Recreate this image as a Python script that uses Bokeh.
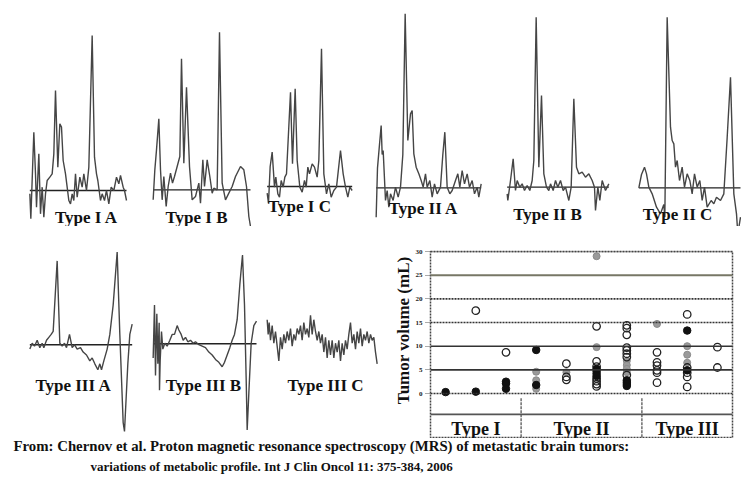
from bokeh.plotting import figure
from bokeh.layouts import column, row
from bokeh.models import Range1d, FixedTicker, Span, Title
from bokeh.core.properties import value
from bokeh.embed import file_html
from bokeh.resources import INLINE

# ---------------- spectra data (shift index, intensity a.u.; baseline = 0) -------------
IA_x = [0, 3, 8, 12, 17, 20, 27, 32, 37, 42, 47, 52, 60, 67, 72, 77, 84, 90, 95, 100, 107, 112, 117, 122, 127, 132, 137, 142, 150, 157, 162, 170, 177, 187, 194, 200, 204, 212, 217, 224, 230, 237, 244, 252, 260, 267, 272, 280, 284, 290]
IA_y = [-10, -85, 60, 175, 50, -50, 110, -70, 10, -80, -10, 30, 40, 50, 110, 300, 70, 200, 190, 90, 50, 10, -30, -40, -10, -30, 50, -20, 40, 10, 50, 0, 70, 465, 100, 50, 30, -30, -10, -30, 0, -40, 10, 0, 40, 20, 45, 10, 0, -30]

IB_x = [0, 5, 10, 17, 22, 27, 32, 39, 45, 52, 58, 64, 72, 80, 85, 92, 100, 109, 117, 127, 137, 142, 149, 154, 162, 170, 177, 182, 192, 199, 207, 217, 227, 237, 247, 262, 272, 280, 287, 292]
IB_y = [-30, 60, 120, 213, 60, -30, 40, -50, 10, 50, 20, 40, 70, 100, 393, 80, 308, 70, -30, -20, 20, -40, 90, 10, 90, 40, -10, 5, 0, 473, 20, -30, -10, 10, 40, 70, 60, 10, -80, -110]

IC_x = [0, 4, 9, 15, 22, 26, 32, 37, 42, 48, 53, 58, 70, 76, 84, 90, 98, 105, 112, 117, 122, 127, 135, 142, 150, 155, 163, 170, 178, 185, 192, 200, 208, 220, 228, 235, 242, 248, 255]
IC_y = [-20, -50, 60, 103, -2, 28, -22, -32, 18, -2, 28, 38, 283, 68, 293, 78, -2, -17, 18, -2, 58, 38, 68, 58, 28, 78, 413, 38, -22, 8, -32, -12, -2, 108, 38, -2, -32, -2, -12]

IIA_x = [0, 4, 10, 15, 18, 21, 28, 33, 38, 43, 51, 58, 66, 73, 80, 87, 95, 103, 108, 113, 120, 128, 135, 141, 148, 153, 161, 168, 175, 183, 193, 200, 206, 213, 221, 228, 238, 245, 251, 258, 265, 273, 280, 288, 295, 303, 308, 315]
IIA_y = [-88, 60, 130, 187, 100, 112, -38, -8, -58, -18, -38, 2, -28, 2, 100, 522, 142, 222, 232, 102, 62, 42, 22, 2, 42, 2, 22, -28, 12, -18, 2, 100, 167, 2, -18, -8, 22, 42, 2, 52, 12, 42, 2, 22, -18, 2, -28, 12]

IIB_x = [0, 2, 10, 18, 25, 30, 38, 45, 52, 60, 68, 75, 80, 87, 95, 103, 110, 118, 125, 130, 138, 145, 152, 160, 168, 175, 185, 192, 200, 208, 215, 225, 235, 245, 255, 262, 265, 272, 278, 285, 295, 305]
IIB_y = [-20, -40, 20, 85, -10, 20, 0, 10, -10, 5, -10, 20, 80, 510, 60, 275, 40, 0, -10, 10, -10, 20, 0, 20, -10, 0, -40, 0, 265, 60, 40, 45, 30, 40, 20, 0, -70, 0, -40, 20, -10, 10]

IIC_x = [0, 8, 17, 23, 30, 40, 53, 65, 75, 78, 85, 95, 100, 105, 110, 115, 122, 130, 137, 145, 153, 160, 167, 175, 183, 190, 197, 205, 217, 225, 233, 245, 255, 265, 275, 285, 293, 297, 305]
IIC_y = [0, 40, 62, 42, 2, -18, -58, -78, -50, -88, 512, 182, 142, 132, 62, 82, 22, 62, 2, 42, 22, -18, 42, 2, 22, -38, 2, -58, -38, -48, -28, -38, -18, 150, 332, -18, -78, -138, -88]

IIIA_x = [0, 7, 14, 22, 30, 37, 42, 50, 57, 64, 70, 82, 90, 97, 104, 110, 119, 127, 134, 142, 152, 160, 170, 180, 187, 195, 204, 210, 215, 222, 232, 240, 250, 262, 270, 280, 284, 294, 300, 307]
IIIA_y = [-15, 5, -5, 15, -10, 5, -10, 15, 25, 35, 45, 285, 5, -5, 5, -10, 35, -10, 0, -15, -10, -25, -35, -55, -45, -65, -85, -65, -85, -55, -15, 35, 135, 315, 35, -265, -295, -65, 35, 70]

IIIB_x = [0, 4, 7, 11, 14, 18, 19, 21, 25, 29, 35, 42, 50, 57, 64, 72, 77, 84, 90, 97, 104, 112, 120, 127, 137, 147, 157, 167, 177, 187, 197, 207, 214, 222, 230, 237, 244, 252, 260, 268, 274, 279, 282, 287, 294, 302, 310]
IIIB_y = [-48, 132, -108, 102, -68, 72, -158, -58, 42, -18, 2, -8, 12, 32, 32, 62, 47, 32, 12, 22, 7, 12, 2, 7, -3, -8, -13, -28, -38, -53, -63, -78, -63, -38, -13, 12, 32, 82, 202, 302, 132, -118, -293, -168, 2, 62, 77]

IIIC_x = [0, 3, 6, 10, 15, 20, 25, 30, 35, 40, 45, 50, 55, 60, 65, 70, 75, 80, 85, 90, 95, 100, 105, 110, 115, 120, 125, 130, 135, 140, 145, 150, 155, 160, 165, 170, 175, 180, 185, 190, 195, 200, 205, 210, 215, 220, 225, 230, 235, 240, 245, 250, 255, 260, 265, 270, 275, 280, 285, 290, 295, 300, 305, 310, 315, 320, 325, 330]
IIIC_y = [75, 25, 65, 5, 55, -5, 35, -15, -65, 15, -25, 25, -5, 35, 5, 45, -15, 25, 5, 45, 25, 55, 5, 65, 25, 45, 15, 90, 25, 75, 35, 5, 35, -5, 25, -35, 15, -55, 5, -45, 5, -55, -5, -35, 5, -65, -5, -45, 5, -25, 25, 65, -5, 25, -25, 35, -5, 45, -15, 25, 5, 35, -5, 25, 5, 15, -35, -75]

# ---------------- scatter data (subgroup column, tumor volume mL) ----------------------
group_names = ["Type I", "Type II", "Type III"]
group_sizes = [3, 4, 3]

filled_col = [1, 2, 3, 3, 3, 4, 4, 6, 6, 6, 6, 7, 7, 7, 7, 9, 9]
filled_vol = [0.3, 0.4, 2.5, 2.1, 1.0, 9.2, 1.8, 5.2, 4.7, 4.2, 3.7, 2.8, 2.4, 2.0, 1.6, 13.3, 4.9]

open_col = [2, 3, 5, 5, 5, 6, 6, 6, 6, 6, 6, 6, 7, 7, 7, 7, 7, 7, 7, 7, 8, 8, 8, 8, 8, 8, 9, 9, 9, 9, 9, 10, 10]
open_vol = [17.5, 8.7, 6.3, 3.5, 2.9, 14.2, 6.8, 5.7, 3.2, 2.6, 2.0, 1.5, 14.4, 13.8, 12.4, 9.7, 9.1, 8.4, 7.7, 3.9, 8.7, 6.6, 5.9, 4.9, 4.4, 2.3, 16.7, 5.5, 4.4, 3.5, 1.4, 9.8, 5.5]

gray_col = [4, 4, 4, 5, 6, 6, 7, 7, 7, 7, 8, 9, 9, 9]
gray_vol = [4.6, 2.8, 1.0, 4.5, 29.0, 9.8, 6.9, 6.0, 5.2, 4.5, 14.7, 10.0, 8.2, 6.5]

y_ticks = [0, 5, 10, 15, 20, 25, 30]

caption_1 = "From: Chernov et al. Proton magnetic resonance spectroscopy (MRS) of metastatic brain tumors:"
caption_2 = "variations of metabolic profile. Int J Clin Oncol 11: 375-384, 2006"

SERIF = value("Liberation Serif")
LINE_COL = "#454545"


def spectrum_panel(xs, ys, label, lx, ly, w, h, xr, yr, baseline=True):
    p = figure(width=w, height=h, x_range=Range1d(*xr), y_range=Range1d(*yr),
               output_backend="svg", toolbar_location=None, min_border=0,
               x_axis_location=None, y_axis_location=None)
    p.grid.visible = False
    p.outline_line_color = None
    if baseline:
        p.line([min(xs), max(xs)], [0, 0], line_color="#222222", line_width=1.4)
    p.line(xs, ys, line_color=LINE_COL, line_width=1.4)
    p.text(x=[lx], y=[ly], text=[label], text_font=SERIF, text_font_style="bold",
           text_font_size="17px", text_align="center", text_baseline="middle",
           text_color="#111111")
    return p


# top row
pIA = spectrum_panel(IA_x, IA_y, "Type I A", 170, -81, 140, 226, (-88, 332), (-108, 570))
pIB = spectrum_panel(IB_x, IB_y, "Type I B", 130, -83, 120, 226, (-38, 322), (-110, 568))
pIC = spectrum_panel(IC_x, IC_y, "Type I C", 97, -60, 102, 226, (-20, 286), (-120, 558))
pIIA = spectrum_panel(IIA_x, IIA_y, "Type II A", 142, -62, 133, 226, (-41, 358), (-116, 562))
pIIB = spectrum_panel(IIB_x, IIB_y, "Type II B", 121, -82, 130, 226, (-35, 355), (-118, 560))
pIIC = spectrum_panel(IIC_x, IIC_y, "Type II C", 116, -80, 116, 226, (-40, 308), (-116, 562))

# second row
pIIIA = spectrum_panel(IIIA_x, IIIA_y, "Type III A", 131, -139, 140, 212, (-88, 332), (-319, 317))
pIIIB = spectrum_panel(IIIB_x, IIIB_y, "Type III B", 151, -142, 120, 212, (-38, 322), (-322, 314))
pIIIC = spectrum_panel(IIIC_x, IIIC_y, "Type III C", 175, -149, 120, 212, (-20, 340), (-329, 307), baseline=False)

# scatter
n_cols = sum(group_sizes)
ps = figure(width=361, height=212, x_range=Range1d(0.5, n_cols + 0.5), y_range=Range1d(-9.5, 30),
            output_backend="svg", toolbar_location=None,
            min_border_left=50, min_border_right=9, min_border_top=25, min_border_bottom=0,
            x_axis_location=None)
ps.grid.visible = False
ps.outline_line_color = "#444444"
ps.outline_line_dash = "2 1"
ps.outline_line_width = 1.5
ps.yaxis.ticker = FixedTicker(ticks=y_ticks)
ps.yaxis.axis_line_color = None
ps.yaxis.major_tick_out = 5
ps.yaxis.major_tick_in = 0
ps.yaxis.major_tick_line_color = "#555555"
ps.yaxis.major_tick_line_dash = "1 1"
ps.yaxis.minor_tick_line_color = None
ps.yaxis.major_label_standoff = 3
ps.yaxis.major_label_text_font = "Liberation Serif"
ps.yaxis.major_label_text_font_style = "bold"
ps.yaxis.major_label_text_font_size = "7px"
ps.yaxis.major_label_text_color = "#222222"

ps.add_layout(Title(text="Tumor volume (mL)", align="right", offset=5,
                    text_font="Liberation Serif", text_font_style="bold",
                    text_font_size="17px", text_color="#111111", standoff=0), "left")

grid_styles = {0: ("#333333", "2 1", 1.6), 5: ("#333333", "solid", 1.6), 10: ("#333333", "solid", 1.6),
               15: ("#333333", "2 1", 1.6), 20: ("#333333", "2 1", 1.6), 25: ("#777766", "solid", 2.0),
               30: ("#444444", "2 1", 1.4)}
for t in y_ticks:
    c, d, lw = grid_styles[t]
    ps.add_layout(Span(location=t, dimension="width", line_color=c, line_dash=d, line_width=lw))

# category panel under the plot
ps.add_layout(Span(location=-4.4, dimension="width", line_color="#555555", line_width=1.6))
bounds = [0.5]
for s in group_sizes:
    bounds.append(bounds[-1] + s)
inner = bounds[1:-1]
ps.segment(x0=inner, y0=[-1.0] * len(inner), x1=inner, y1=[-9.5] * len(inner),
           line_color="#555555", line_width=1.3, line_dash="3 1")
centers = [(bounds[i] + bounds[i + 1]) / 2 for i in range(len(group_names))]
ps.text(x=centers, y=[-7.4] * len(centers), text=group_names, text_font=SERIF,
        text_font_style="bold", text_font_size="18px", text_align="center",
        text_baseline="middle", text_color="#111111")

ps.scatter(gray_col, gray_vol, size=7, marker="circle", fill_color="#9a9a9a",
           line_color="#8a8a8a", line_width=1.0)
ps.scatter(open_col, open_vol, size=7.5, marker="circle", fill_color=None,
           line_color="#222222", line_width=1.3)
ps.scatter(filled_col, filled_vol, size=7.5, marker="circle", fill_color="#111111",
           line_color="#111111", line_width=1.0)

# caption
pc = figure(width=741, height=39, x_range=Range1d(0, 741), y_range=Range1d(0, 39),
            output_backend="svg", toolbar_location=None, min_border=0,
            x_axis_location=None, y_axis_location=None)
pc.grid.visible = False
pc.outline_line_color = None
pc.text(x=[13, 90], y=[32, 11], text=[caption_1, caption_2], text_font=SERIF,
        text_font_style="bold", text_font_size=["14.8px", "13px"], text_align="left",
        text_baseline="middle", text_color="#111111")

layout = column(row(pIA, pIB, pIC, pIIA, pIIB, pIIC),
                row(pIIIA, pIIIB, pIIIC, ps),
                pc)

open("out.html", "w").write(file_html(layout, INLINE))
